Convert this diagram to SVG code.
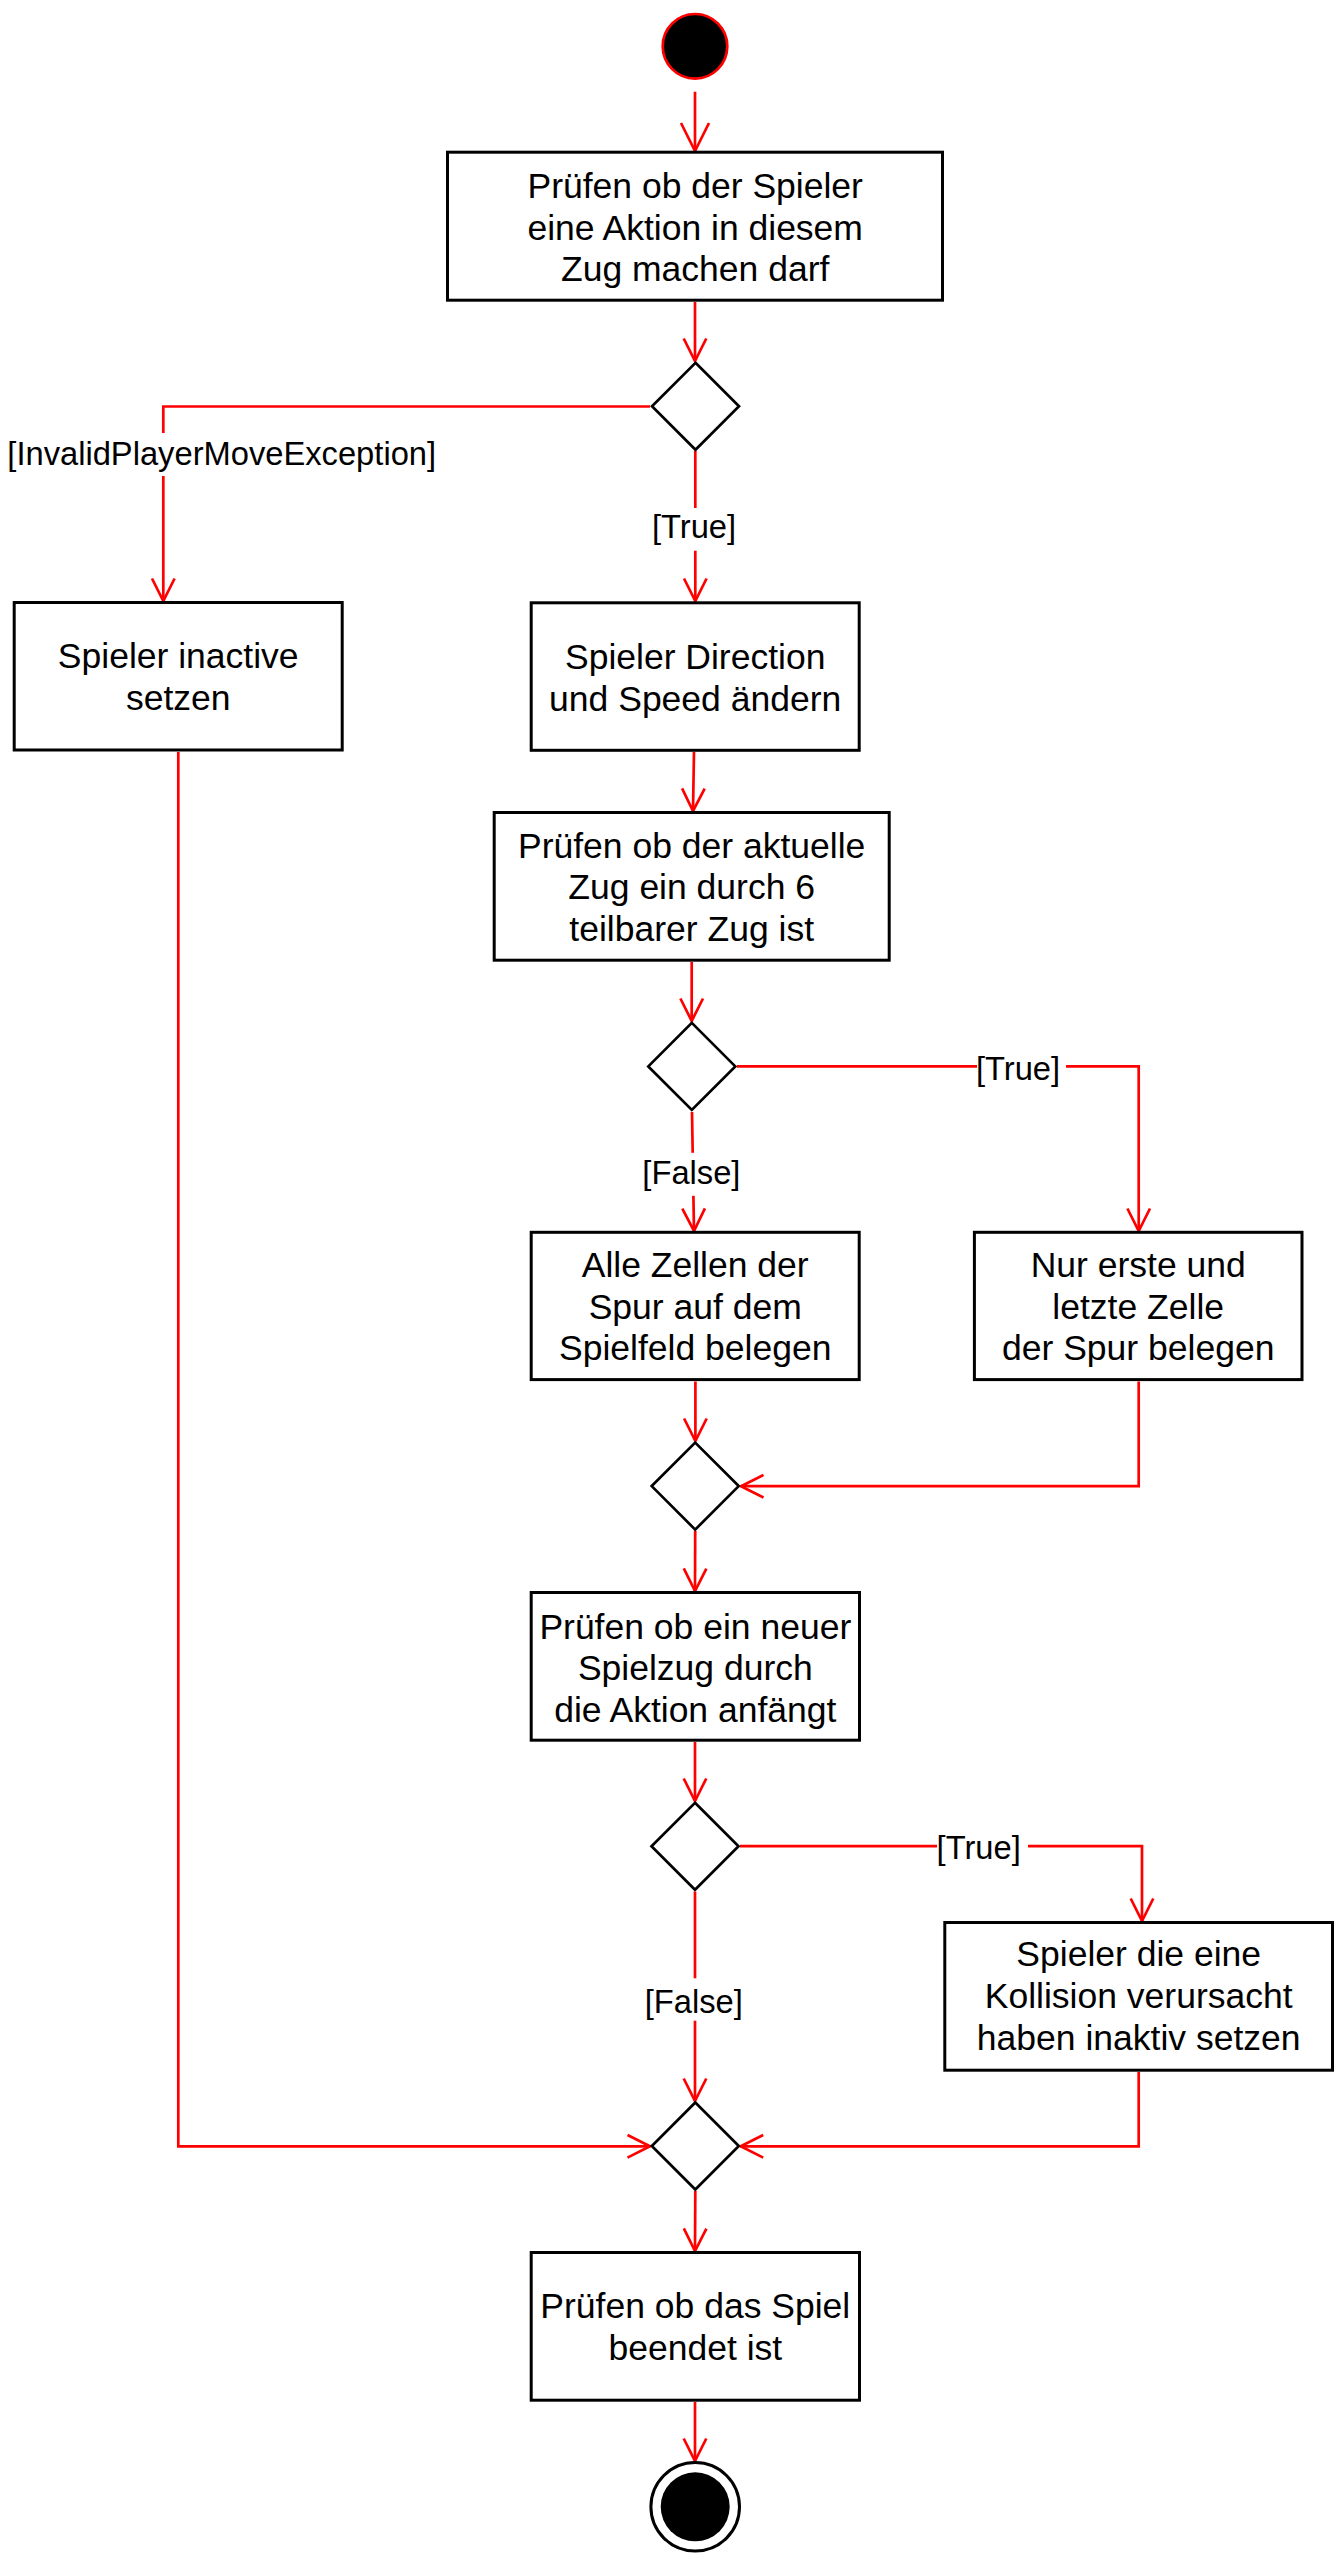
<svg xmlns="http://www.w3.org/2000/svg" width="1335" height="2553" viewBox="0 0 1335 2553">
<style>
.box{fill:#fff;stroke:#000;stroke-width:3}
.dia{fill:#fff;stroke:#000;stroke-width:2.7}
.t{font-family:"Liberation Sans",Arial,Helvetica,sans-serif;font-size:35.5px;fill:#000;text-anchor:middle}
.lbl{font-family:"Liberation Sans",Arial,Helvetica,sans-serif;font-size:32.7px;fill:#000;text-anchor:middle}
.c{fill:none;stroke:#ff0000;stroke-width:2.7;marker-end:url(#arr)}
.lb{fill:#fff;stroke:none}
</style>
<defs>
<marker id="arr" markerUnits="userSpaceOnUse" viewBox="-2 -2 28 28" refX="22.5" refY="11.3" markerWidth="28" markerHeight="28" orient="auto" overflow="visible">
<path d="M0,0 L22.5,11.3 L0,22.6" fill="none" stroke="#ff0000" stroke-width="2.7"/>
</marker>
<marker id="arrBig" markerUnits="userSpaceOnUse" viewBox="-2 -2 32 32" refX="28" refY="14" markerWidth="32" markerHeight="32" orient="auto" overflow="visible">
<path d="M0,0 L28,14 L0,28" fill="none" stroke="#ff0000" stroke-width="2.7"/>
</marker>
</defs>
<rect width="1335" height="2553" fill="#fff"/>

<g id="connectors">
<path class="c" style="marker-end:url(#arrBig)" d="M695,91.7 L695,151"/>
<path class="c" d="M695,302 L695,361"/>
<path class="c" d="M650,406.5 L163.3,406.5 L163.3,601"/>
<path class="c" d="M695.3,451 L695.3,601"/>
<path class="c" d="M694,752 L693,811"/>
<path class="c" d="M691.7,962 L691.7,1021"/>
<path class="c" d="M737,1066.4 L1138.7,1066.4 L1138.7,1231"/>
<path class="c" d="M692,1112 L694,1231"/>
<path class="c" d="M695.4,1381.5 L695.4,1441"/>
<path class="c" d="M1138.7,1381.5 L1138.7,1486.2 L741,1486.2"/>
<path class="c" d="M695.2,1531 L695,1591"/>
<path class="c" d="M695,1742 L695,1801"/>
<path class="c" d="M740,1846.2 L1142,1846.2 L1142,1921"/>
<path class="c" d="M695,1891.5 L695,2101"/>
<path class="c" d="M178.3,752 L178.3,2146.3 L650,2146.3"/>
<path class="c" d="M1138.7,2072 L1138.7,2146.3 L740.7,2146.3"/>
<path class="c" d="M695.3,2191 L695,2251"/>
<path class="c" d="M695,2402 L695,2461"/>
<rect class="lb" x="5" y="433" width="434" height="43"/>
<text class="lbl" x="221.7" y="465">[InvalidPlayerMoveException]</text>
<rect class="lb" x="651" y="508" width="86" height="42.7"/>
<text class="lbl" x="694" y="538.3">[True]</text>
<rect class="lb" x="977" y="1045" width="89" height="43"/>
<text class="lbl" x="1018" y="1079.7">[True]</text>
<rect class="lb" x="643" y="1152.8" width="98" height="43"/>
<text class="lbl" x="691.4" y="1183.8">[False]</text>
<rect class="lb" x="937" y="1825" width="91" height="43"/>
<text class="lbl" x="978.7" y="1859.3">[True]</text>
<rect class="lb" x="645" y="1978.3" width="98" height="42.4"/>
<text class="lbl" x="693.8" y="2013.3">[False]</text>
</g>

<g id="start">
<circle cx="695" cy="46.3" r="32.3" fill="#000" stroke="#ff0000" stroke-width="2.7"/>
</g>

<g id="pruefen-aktion">
<rect class="box" x="447.5" y="152.2" width="495" height="148"/>
<text class="t" x="695.2" y="198.3">Prüfen ob der Spieler</text>
<text class="t" x="695.2" y="239.6">eine Aktion in diesem</text>
<text class="t" x="695.2" y="281">Zug machen darf</text>
</g>

<g id="decision-1">
<polygon class="dia" points="695.5,362.8 739,406.3 695.5,449.8 652,406.3"/>
</g>

<g id="spieler-inactive">
<rect class="box" x="14.2" y="602.5" width="328" height="147.5"/>
<text class="t" x="178.2" y="667.5">Spieler inactive</text>
<text class="t" x="178.2" y="709.5">setzen</text>
</g>

<g id="direction-speed">
<rect class="box" x="531.2" y="602.8" width="328" height="147.5"/>
<text class="t" x="695.2" y="669.3">Spieler Direction</text>
<text class="t" x="695.2" y="710.7">und Speed ändern</text>
</g>

<g id="pruefen-zug6">
<rect class="box" x="494.2" y="812.5" width="395" height="147.7"/>
<text class="t" x="691.7" y="857.5">Prüfen ob der aktuelle</text>
<text class="t" x="691.7" y="899.3">Zug ein durch 6</text>
<text class="t" x="691.7" y="941">teilbarer Zug ist</text>
</g>

<g id="decision-2">
<polygon class="dia" points="691.8,1022.9 735.3,1066.4 691.8,1109.9 648.3,1066.4"/>
</g>

<g id="alle-zellen">
<rect class="box" x="531.2" y="1232.3" width="328" height="147.3"/>
<text class="t" x="695.2" y="1277">Alle Zellen der</text>
<text class="t" x="695.2" y="1318.7">Spur auf dem</text>
<text class="t" x="695.2" y="1360.4">Spielfeld belegen</text>
</g>

<g id="nur-erste">
<rect class="box" x="974.4" y="1232.3" width="327.6" height="147.3"/>
<text class="t" x="1138.2" y="1277">Nur erste und</text>
<text class="t" x="1138.2" y="1318.7">letzte Zelle</text>
<text class="t" x="1138.2" y="1360.4">der Spur belegen</text>
</g>

<g id="merge-1">
<polygon class="dia" points="695.2,1442.6 738.7,1486.1 695.2,1529.6 651.7,1486.1"/>
</g>

<g id="pruefen-spielzug">
<rect class="box" x="531.2" y="1592.5" width="328.3" height="147.7"/>
<text class="t" x="695.3" y="1638.5">Prüfen ob ein neuer</text>
<text class="t" x="695.3" y="1680">Spielzug durch</text>
<text class="t" x="695.3" y="1721.5">die Aktion anfängt</text>
</g>

<g id="decision-3">
<polygon class="dia" points="695,1802.8 738.5,1846.3 695,1889.8 651.5,1846.3"/>
</g>

<g id="kollision">
<rect class="box" x="944.8" y="1922.5" width="387.7" height="147.7"/>
<text class="t" x="1138.7" y="1966">Spieler die eine</text>
<text class="t" x="1138.7" y="2008">Kollision verursacht</text>
<text class="t" x="1138.7" y="2050">haben inaktiv setzen</text>
</g>

<g id="merge-2">
<polygon class="dia" points="695.3,2102.5 738.8,2146 695.3,2189.5 651.8,2146"/>
</g>

<g id="pruefen-ende">
<rect class="box" x="531.2" y="2252.5" width="328.3" height="147.7"/>
<text class="t" x="695.3" y="2317.7">Prüfen ob das Spiel</text>
<text class="t" x="695.3" y="2360">beendet ist</text>
</g>

<g id="end">
<circle cx="695.2" cy="2506.8" r="44.3" fill="#fff" stroke="#000" stroke-width="3"/>
<circle cx="695.2" cy="2506.8" r="34.5" fill="#000"/>
</g>
</svg>
